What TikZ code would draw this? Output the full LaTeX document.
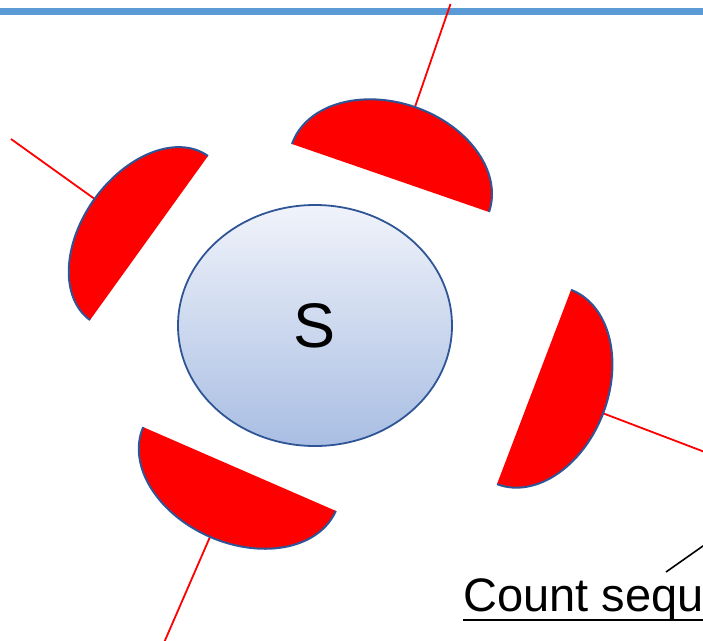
\documentclass[tikz,border=0pt]{standalone}
\usepackage{fontspec}
\setmainfont{Liberation Sans}
\usetikzlibrary{shapes.geometric}
\definecolor{topbar}{HTML}{5B9BD5}
\definecolor{rimblue}{HTML}{2F5597}
\definecolor{shadetop}{HTML}{F0F3FA}
\definecolor{shadebot}{HTML}{A9BEE3}
\tikzset{
  rayline/.style={draw=red, line width=1.8pt},
  rimline/.style={draw=rimblue, line width=2pt},
  pointer/.style={draw=black, line width=1.6pt},
}
% cx cy ux uy nx ny a b
\newcommand\halfdisc[8]{%
  \fill[red] plot[domain=0:180, samples=91, variable=\t]
    ({#1+#7*cos(\t)*#3+#8*sin(\t)*#5},{#2+#7*cos(\t)*#4+#8*sin(\t)*#6}) -- cycle;
  \draw[rimline] plot[domain=0:180, samples=91, variable=\t, smooth]
    ({#1+#7*cos(\t)*#3+#8*sin(\t)*#5},{#2+#7*cos(\t)*#4+#8*sin(\t)*#6});
}
\begin{document}
\begin{tikzpicture}[x=1pt, y=-1pt]
\useasboundingbox (0,0) rectangle (703,640);
\clip (0,0) rectangle (703,640);
% top bar
\coordinate (barL) at (-5,11);
\coordinate (barR) at (710,11);
\draw[draw=topbar, line width=7pt] (barL) -- (barR);
% rays
\coordinate (rt1) at (414.95,107.05); \coordinate (rt2) at (450.5,4);
\coordinate (rr1) at (603.1,413.3);   \coordinate (rr2) at (710,454);
\coordinate (rl1) at (94.6,198.9);    \coordinate (rl2) at (11,139);
\coordinate (rb1) at (210,536.9);     \coordinate (rb2) at (163,645);
\draw[rayline] (rt1) -- (rt2);
\draw[rayline] (rr1) -- (rr2);
\draw[rayline] (rl1) -- (rl2);
\draw[rayline] (rb1) -- (rb2);
% half discs
\halfdisc{390.5}{178}{0.947}{0.327}{0.326}{-0.946}{104}{75}
\halfdisc{534}{387}{-0.356}{0.934}{0.934}{0.356}{104}{74}
\halfdisc{149}{238}{0.584}{-0.812}{-0.812}{-0.584}{101}{67}
\halfdisc{239.5}{469}{-0.917}{-0.399}{-0.399}{0.917}{105}{74}
% central ellipse
\node[ellipse, draw=rimblue, line width=1.8pt, top color=shadetop, bottom color=shadebot,
      minimum width=274pt, minimum height=241pt, inner sep=0pt,
      font=\fontsize{63}{70}\selectfont] (S) at (315,325.5) {S};
% label
\node[anchor=base west, inner sep=0pt, font=\fontsize{47}{56}\selectfont] (cs) at (463,611) {Count sequ};
\coordinate (ul1) at (463,620); \coordinate (ul2) at (710,620);
\draw[line width=2.4pt] (ul1) -- (ul2);
\coordinate (p1) at (666,572); \coordinate (p2) at (720,534);
\draw[pointer] (p1) -- (p2);
\end{tikzpicture}
\end{document}
